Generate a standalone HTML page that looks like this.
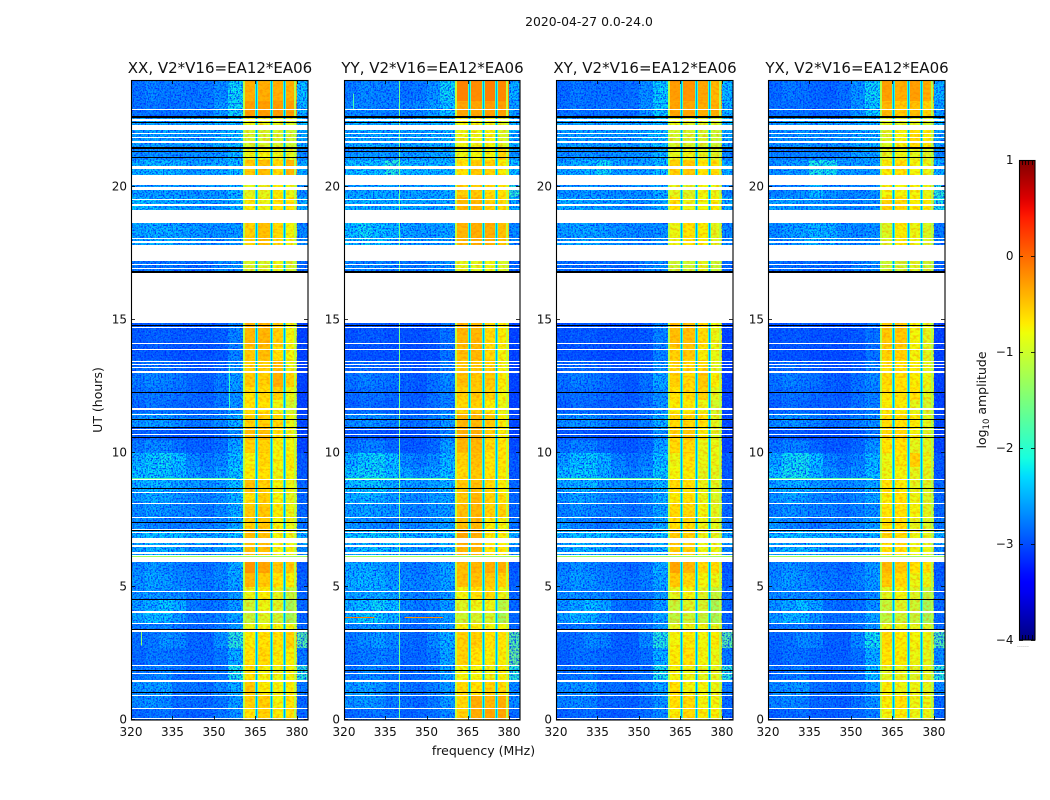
<!DOCTYPE html>
<html><head><meta charset="utf-8"><title>2020-04-27 0.0-24.0</title>
<style>
html,body{margin:0;padding:0;background:#fff}
svg{display:block}
text{font-family:"DejaVu Sans","Liberation Sans",sans-serif;fill:#111}
</style></head>
<body>
<svg id="figure" width="1050" height="800" viewBox="0 0 1050 800" xmlns="http://www.w3.org/2000/svg">
<defs>
<filter id="speckleDark" x="0" y="0" width="100%" height="100%" color-interpolation-filters="sRGB">
<feTurbulence type="fractalNoise" baseFrequency="0.6" numOctaves="2" seed="4"/>
<feColorMatrix values="0 0 0 0 0  0 0 0 0 0.14  0 0 0 0 1  4 0 0 0 -1.75"/>
</filter>
<filter id="speckleLight" x="0" y="0" width="100%" height="100%" color-interpolation-filters="sRGB">
<feTurbulence type="fractalNoise" baseFrequency="0.55" numOctaves="2" seed="11"/>
<feColorMatrix values="0 0 0 0 0.05  0 0 0 0 0.65  0 0 0 0 1  0 3.2 0 0 -1.55"/>
</filter>
<filter id="speckleBand" x="0" y="0" width="100%" height="100%" color-interpolation-filters="sRGB">
<feTurbulence type="fractalNoise" baseFrequency="0.3 0.42" numOctaves="2" seed="7"/>
<feColorMatrix values="0 0 0 0 1  0 0 0 0 0.48  0 0 0 0 0  3.4 0 0 0 -1.45"/>
</filter>
<linearGradient id="cbarGradient" x1="0" y1="1" x2="0" y2="0"></linearGradient>
</defs>
<rect x="0" y="0" width="1050" height="800" fill="#fff"/>
<text x="589" y="26" font-size="12.4" text-anchor="middle">2020-04-27 0.0-24.0</text>
<text x="0" y="0" font-size="12.5" text-anchor="middle" transform="translate(102,400) rotate(-90)">UT (hours)</text>
<text x="483.5" y="755" font-size="12.5" text-anchor="middle">frequency (MHz)</text>
<text x="0" y="0" font-size="12.5" text-anchor="middle" transform="translate(986,400) rotate(-90)">log<tspan font-size="8.5" dy="3">10</tspan><tspan dy="-3"> amplitude</tspan></text>
<text x="1017" y="647" font-size="6" letter-spacing="0.1" fill="#888" style="fill:#888">......</text>
<g id="panels"></g>
<g id="colorbar"></g>
</svg>
<script>
const panelTitles = ["XX, V2*V16=EA12*EA06","YY, V2*V16=EA12*EA06","XY, V2*V16=EA12*EA06","YX, V2*V16=EA12*EA06"];
const xTickValues = [320,335,350,365,380];
const yTickValues = [0,5,10,15,20];
const cbarTickValues = [-4,-3,-2,-1,0,1];
const cbarTickLabels = ["\u22124","\u22123","\u22122","\u22121","0","1"];

/* frequency bins of every heatmap column (MHz) */
const freqLow  = [320,325,330,335,340,345,350,355,360.5,365.7,370.8,375.6,379.9];
const freqHigh = [325,330,335,340,345,350,355,360.5,365,370.2,375,379.9,384];
/* narrow channel notches (MHz) with a shoulder, per-panel levels (log10 amplitude) */
const notchCenters = [365.35,370.5,375.3];
const notchCoreLevels = [-2.6,-2.55,-2.6,-2.6];
const notchShoulderLevels = [-1.95,-1.9,-1.95,-2];
/* rounded-off outer edges of the passband (MHz) */
const edgeCenters = [360.9,379.4];
const edgeLevels = [-1.15,-1.1,-1.15,-1.2];

/* UT row edges (hours) */
const utEdges = [0,.45,.95,1.45,2.05,2.7,3.3,3.65,4.05,4.5,5,5.5,6.1,6.6,7.1,7.6,8.1,8.5,9,9.5,10,10.5,11,11.5,12,12.5,13,13.5,14,16.75,17.8,19.14,19.6,20.07,21,21.5,22.3,22.6,23.2,24];

/* flagged (no data, white) UT ranges, hours */
const flaggedLow  = [.03,.43,.91,1.44,1.74,2.04,3.29,3.61,4.03,4.82,5.94,6.17,6.24,6.48,6.62,7.02,7.13,7.58,8.09,8.50,9.01,10.69,10.89,11.45,11.64,13.03,13.19,13.32,13.43,13.88,14.12,14.69,14.87,16.92,17.05,17.20,17.90,18.03,18.63,19.29,19.52,19.87,20.07,20.65,21.32,21.65,21.81,21.98,22.14,22.48,22.88];
const flaggedHigh = [.07,.46,.94,1.49,1.78,2.08,3.36,3.64,4.07,4.84,6.10,6.19,6.29,6.57,6.82,7.04,7.17,7.62,8.12,8.54,9.04,10.73,10.93,11.49,11.69,13.07,13.23,13.35,13.46,13.91,14.15,14.72,16.75,16.96,17.09,17.80,17.95,18.08,19.14,19.34,19.55,20.00,20.45,20.77,21.34,21.70,21.86,22.03,22.30,22.52,22.93];
/* zero-amplitude (black) UT ranges, hours */
const zeroLow  = [1.00,1.83,3.38,4.49,7.07,7.39,8.68,10.58,10.94,11.26,12.26,14.77,16.76,21.09,21.31,21.42,22.38,22.58];
const zeroHigh = [1.04,1.86,3.41,4.52,7.12,7.42,8.70,10.61,11.00,11.29,12.30,14.80,16.82,21.12,21.34,21.47,22.42,22.66];

/* short interference streaks: panel index (-1 = every panel), UT range, frequency range, level */
const streakPanel   = [-1,-1,0,1,1,1,1];
const streakUtLow   = [6.10,9.04,4.07,4.07,3.83,4.07,3.83];
const streakUtHigh  = [6.16,9.08,4.10,4.10,3.86,4.10,3.86];
const streakFreqLow = [320,320,320,320,320,342,342];
const streakFreqHigh= [384,358,356,333,331,356,356];
const streakLevel   = [-1.3,-1.7,-.2,-.1,-.1,-.4,-.2];

/* narrow always-on tones: panel index, frequency, UT range, level */
const tonePanel  = [1,1,0,0];
const toneFreq   = [340,323.2,323.6,355.4];
const toneUtLow  = [0,22.9,2.8,11.6];
const toneUtHigh = [24,23.5,3.3,13.3];
const toneLevel  = [-1.55,-1.8,-1.4,-1.9];

/* log10 amplitude: one row per UT bin, one value per frequency bin */
const xxValues = [
[-2.8,-2.75,-2.7,-2.8,-2.85,-2.8,-2.7,-2.55,-.7,-.6,-.75,-.7,-2.8],
[-2.6,-2.55,-2.6,-2.75,-2.75,-2.8,-2.7,-2.5,-.6,-.6,-.8,-.7,-2.8],
[-2.55,-2.5,-2.45,-2.7,-2.7,-2.75,-2.6,-2.4,-.55,-.75,-.8,-.75,-2.7],
[-2.7,-2.65,-2.6,-2.75,-2.8,-2.75,-2.7,-2.1,-.7,-.8,-.85,-.8,-2.0],
[-2.8,-2.7,-2.7,-2.75,-2.8,-2.8,-2.7,-2.4,-.7,-.65,-.75,-.75,-2.7],
[-2.75,-2.7,-2.55,-2.6,-2.8,-2.8,-2.55,-2.0,-.75,-.7,-.7,-.6,-1.7],
[-2.7,-2.65,-2.6,-2.7,-2.8,-2.8,-2.7,-2.5,-.85,-.8,-.8,-.8,-2.8],
[-2.45,-2.3,-2.3,-2.5,-2.7,-2.7,-2.6,-2.45,-1.1,-.95,-1.05,-1.3,-2.8],
[-2.5,-2.4,-2.25,-2.4,-2.7,-2.75,-2.7,-2.5,-1.05,-.85,-.95,-1.3,-2.8],
[-2.55,-2.5,-2.55,-2.55,-2.65,-2.7,-2.65,-2.5,-.85,-.75,-.9,-1.1,-2.8],
[-2.55,-2.45,-2.5,-2.6,-2.65,-2.7,-2.6,-2.45,-.45,-.55,-.7,-.75,-2.85],
[-2.6,-2.5,-2.55,-2.65,-2.7,-2.75,-2.65,-2.4,-.25,-.35,-.55,-.55,-2.9],
[-2.45,-2.35,-2.35,-2.4,-2.55,-2.55,-2.5,-2.35,-.5,-.5,-.8,-.8,-2.6],
[-2.35,-2.3,-2.3,-2.3,-2.4,-2.45,-2.4,-2.3,-.45,-.5,-.8,-.85,-2.4],
[-2.55,-2.6,-2.65,-2.7,-2.65,-2.65,-2.6,-2.4,-.6,-.55,-.8,-.85,-2.7],
[-2.6,-2.5,-2.55,-2.6,-2.6,-2.7,-2.6,-2.4,-.55,-.55,-.75,-.85,-2.8],
[-2.5,-2.4,-2.45,-2.55,-2.6,-2.65,-2.55,-2.35,-.7,-.6,-.8,-.9,-2.8],
[-2.4,-2.35,-2.35,-2.45,-2.5,-2.55,-2.5,-2.3,-.5,-.6,-.8,-.85,-2.8],
[-2.3,-2.25,-2.25,-2.35,-2.5,-2.6,-2.5,-2.25,-.75,-.7,-.85,-.8,-2.9],
[-2.4,-2.25,-2.2,-2.3,-2.6,-2.7,-2.6,-2.3,-.8,-.65,-.8,-.75,-2.9],
[-2.7,-2.6,-2.6,-2.75,-2.85,-2.85,-2.75,-2.45,-.6,-.6,-.8,-.8,-3.05],
[-2.85,-2.8,-2.85,-2.9,-2.9,-2.9,-2.8,-2.55,-.5,-.5,-.7,-.85,-3.05],
[-2.55,-2.5,-2.5,-2.6,-2.7,-2.7,-2.6,-2.4,-.6,-.6,-.65,-.85,-3],
[-2.8,-2.7,-2.75,-2.8,-2.8,-2.8,-2.7,-2.55,-.7,-.7,-.85,-1,-3.05],
[-2.75,-2.7,-2.7,-2.75,-2.8,-2.85,-2.7,-2.55,-.7,-.65,-.6,-.85,-3.05],
[-2.7,-2.6,-2.65,-2.7,-2.8,-2.85,-2.7,-2.5,-.55,-.6,-.4,-.6,-3.05],
[-2.75,-2.7,-2.75,-2.8,-2.9,-2.9,-2.8,-2.55,-.6,-.6,-.5,-.85,-3.05],
[-2.9,-2.9,-2.9,-2.95,-2.95,-2.95,-2.9,-2.65,-.55,-.5,-.7,-.8,-3.05],
[-2.9,-2.85,-2.85,-2.9,-2.9,-2.9,-2.85,-2.65,-.45,-.45,-.6,-.8,-3.05],
[-2.7,-2.7,-2.7,-2.7,-2.75,-2.75,-2.6,-2.55,-1,-1,-.85,-1,-2.8],
[-2.45,-2.4,-2.4,-2.45,-2.5,-2.55,-2.55,-2.5,-.6,-.5,-.65,-.8,-2.6],
[-2.3,-2.35,-2.4,-2.4,-2.45,-2.5,-2.5,-2.35,-.75,-.85,-.7,-.7,-2.4],
[-2.5,-2.5,-2.45,-2.5,-2.55,-2.5,-2.5,-2.35,-.9,-.9,-.75,-.85,-2.6],
[-2.4,-2.35,-2.35,-2.4,-2.5,-2.45,-2.4,-2.3,-.55,-.5,-.65,-.45,-2.4],
[-2.6,-2.55,-2.55,-2.6,-2.55,-2.55,-2.5,-2.35,-.85,-.8,-.85,-.9,-2.6],
[-2.5,-2.45,-2.45,-2.5,-2.5,-2.5,-2.4,-2.3,-1,-1,-1,-1.05,-2.4],
[-2.45,-2.45,-2.45,-2.45,-2.45,-2.45,-2.4,-2.3,-.85,-.9,-.9,-.95,-2.3],
[-2.75,-2.7,-2.75,-2.75,-2.7,-2.7,-2.5,-2.2,-.3,-.3,-.3,-.3,-2.4],
[-2.75,-2.65,-2.7,-2.7,-2.75,-2.7,-2.6,-2.2,-.4,-.4,-.4,-.4,-2.3]
];
const yyValues = [
[-2.8,-2.75,-2.7,-2.75,-2.85,-2.8,-2.75,-2.6,-.6,-.4,-.35,-.35,-2.8],
[-2.55,-2.5,-2.55,-2.7,-2.75,-2.8,-2.7,-2.5,-.65,-.4,-.45,-.4,-2.6],
[-2.5,-2.45,-2.5,-2.65,-2.7,-2.75,-2.65,-2.5,-.65,-.7,-.6,-.65,-2.6],
[-2.7,-2.6,-2.6,-2.7,-2.8,-2.75,-2.7,-2.45,-.8,-.8,-.85,-.75,-2.0],
[-2.75,-2.7,-2.65,-2.7,-2.8,-2.8,-2.7,-2.45,-.6,-.7,-.75,-.75,-1.6],
[-2.7,-2.6,-2.5,-2.6,-2.75,-2.8,-2.6,-2.4,-.6,-.6,-.7,-.7,-1.7],
[-2.6,-2.55,-2.55,-2.65,-2.75,-2.8,-2.7,-2.5,-.75,-.75,-.8,-.8,-2.8],
[-2.35,-2.25,-2.25,-2.4,-2.65,-2.7,-2.6,-2.5,-1.05,-1,-1,-1.3,-2.8],
[-2.4,-2.3,-2.2,-2.3,-2.6,-2.7,-2.65,-2.5,-.95,-.85,-.85,-1.2,-2.8],
[-2.45,-2.4,-2.4,-2.45,-2.6,-2.65,-2.6,-2.5,-.8,-.7,-.65,-.85,-2.8],
[-2.4,-2.35,-2.4,-2.5,-2.6,-2.65,-2.6,-2.45,-.5,-.5,-.55,-.6,-2.85],
[-2.45,-2.4,-2.45,-2.55,-2.65,-2.7,-2.6,-2.45,-.5,-.45,-.4,-.4,-2.9],
[-2.4,-2.3,-2.3,-2.35,-2.5,-2.5,-2.45,-2.35,-.45,-.45,-.7,-.7,-2.6],
[-2.3,-2.25,-2.25,-2.25,-2.35,-2.4,-2.35,-2.3,-.35,-.4,-.75,-.75,-2.4],
[-2.5,-2.55,-2.6,-2.65,-2.6,-2.6,-2.55,-2.45,-.5,-.45,-.75,-.8,-2.7],
[-2.5,-2.45,-2.5,-2.55,-2.6,-2.65,-2.55,-2.5,-.5,-.45,-.6,-.6,-2.8],
[-2.4,-2.35,-2.4,-2.5,-2.55,-2.6,-2.5,-2.45,-.55,-.45,-.6,-.7,-2.8],
[-2.3,-2.25,-2.25,-2.4,-2.45,-2.5,-2.45,-2.35,-.55,-.5,-.65,-.75,-2.8],
[-2.25,-2.2,-2.2,-2.3,-2.45,-2.55,-2.45,-2.3,-.65,-.55,-.7,-.75,-2.9],
[-2.4,-2.25,-2.2,-2.3,-2.6,-2.7,-2.6,-2.35,-.6,-.5,-.7,-.7,-2.9],
[-2.75,-2.65,-2.65,-2.8,-2.9,-2.9,-2.8,-2.5,-.45,-.45,-.65,-.7,-3],
[-2.9,-2.85,-2.9,-2.95,-2.95,-2.95,-2.85,-2.65,-.4,-.4,-.6,-.75,-3.05],
[-2.6,-2.55,-2.55,-2.65,-2.75,-2.75,-2.65,-2.5,-.45,-.45,-.55,-.75,-3],
[-2.85,-2.75,-2.8,-2.85,-2.85,-2.85,-2.75,-2.65,-.65,-.6,-.75,-.85,-3.05],
[-2.8,-2.75,-2.75,-2.8,-2.85,-2.9,-2.75,-2.65,-.6,-.55,-.6,-.8,-3.05],
[-2.75,-2.65,-2.7,-2.75,-2.85,-2.9,-2.75,-2.6,-.5,-.55,-.55,-.75,-3.05],
[-2.8,-2.75,-2.8,-2.85,-2.9,-2.95,-2.85,-2.65,-.55,-.55,-.6,-.8,-3.05],
[-2.95,-2.95,-2.95,-2.95,-3,-3,-2.95,-2.75,-.5,-.45,-.65,-.8,-3.05],
[-2.95,-2.9,-2.9,-2.95,-2.95,-2.95,-2.9,-2.75,-.45,-.45,-.65,-.75,-3.05],
[-2.6,-2.6,-2.6,-2.65,-2.7,-2.7,-2.6,-2.55,-.9,-.9,-.85,-.95,-2.8],
[-2.3,-2.2,-2.3,-2.35,-2.45,-2.5,-2.5,-2.45,-.45,-.4,-.4,-.5,-2.6],
[-2.35,-2.35,-2.4,-2.4,-2.4,-2.4,-2.45,-2.4,-.45,-.45,-.6,-.65,-2.4],
[-2.45,-2.45,-2.4,-2.45,-2.5,-2.45,-2.45,-2.4,-.6,-.55,-.65,-.7,-2.0],
[-2.3,-2.3,-2.3,-2.05,-2.3,-2.35,-2.35,-2.35,-.7,-.55,-.6,-.75,-2.3],
[-2.55,-2.5,-2.5,-2.55,-2.5,-2.5,-2.45,-2.4,-.85,-.8,-.8,-.6,-2.5],
[-2.45,-2.4,-2.4,-2.45,-2.45,-2.45,-2.4,-2.35,-.85,-.85,-.8,-.95,-2.4],
[-2.4,-2.4,-2.4,-2.4,-2.4,-2.4,-2.35,-2.3,-.8,-.85,-.85,-.95,-2.3],
[-2.6,-2.6,-2.65,-2.65,-2.65,-2.6,-2.5,-2.3,-.35,-.35,-.3,-.3,-2.5],
[-2.7,-2.6,-2.65,-2.65,-2.75,-2.7,-2.55,-2.2,-.15,-.2,-.12,-.18,-2.4]
];
const xyValues = [
[-2.85,-2.8,-2.75,-2.85,-2.9,-2.85,-2.75,-2.6,-.75,-.65,-.75,-.75,-2.8],
[-2.65,-2.6,-2.65,-2.8,-2.8,-2.85,-2.75,-2.55,-.7,-.65,-.8,-.8,-2.8],
[-2.6,-2.55,-2.5,-2.75,-2.75,-2.8,-2.65,-2.45,-.7,-.8,-.8,-.85,-2.7],
[-2.75,-2.7,-2.65,-2.8,-2.85,-2.8,-2.75,-2.1,-.8,-.85,-.9,-.9,-2.0],
[-2.85,-2.75,-2.75,-2.8,-2.85,-2.85,-2.75,-2.4,-.75,-.7,-.8,-.85,-2.7],
[-2.8,-2.75,-2.6,-2.65,-2.85,-2.85,-2.6,-2.05,-.8,-.75,-.8,-.75,-1.7],
[-2.75,-2.7,-2.65,-2.75,-2.85,-2.85,-2.75,-2.5,-.9,-.85,-.85,-.9,-2.8],
[-2.5,-2.35,-2.35,-2.55,-2.75,-2.75,-2.65,-2.45,-1.15,-1.05,-1.1,-1.3,-2.8],
[-2.55,-2.45,-2.3,-2.45,-2.75,-2.8,-2.75,-2.5,-1.1,-.95,-1,-1.3,-2.8],
[-2.6,-2.55,-2.6,-2.6,-2.7,-2.75,-2.7,-2.5,-.9,-.8,-.95,-1.1,-2.8],
[-2.6,-2.5,-2.55,-2.65,-2.7,-2.75,-2.65,-2.45,-.55,-.65,-.8,-.85,-2.85],
[-2.65,-2.55,-2.6,-2.7,-2.75,-2.8,-2.7,-2.4,-.35,-.45,-.65,-.65,-2.9],
[-2.45,-2.35,-2.35,-2.4,-2.55,-2.55,-2.5,-2.35,-.6,-.6,-.85,-.85,-2.6],
[-2.35,-2.3,-2.3,-2.3,-2.4,-2.45,-2.4,-2.3,-.55,-.6,-.85,-.9,-2.4],
[-2.5,-2.6,-2.65,-2.75,-2.65,-2.65,-2.6,-2.4,-.7,-.65,-.85,-.9,-2.7],
[-2.65,-2.55,-2.6,-2.65,-2.65,-2.75,-2.65,-2.45,-.65,-.65,-.8,-.9,-2.8],
[-2.55,-2.45,-2.5,-2.6,-2.65,-2.7,-2.6,-2.4,-.75,-.7,-.85,-.95,-2.8],
[-2.45,-2.4,-2.35,-2.5,-2.55,-2.6,-2.55,-2.35,-.65,-.7,-.85,-.9,-2.8],
[-2.35,-2.25,-2.25,-2.4,-2.55,-2.65,-2.55,-2.25,-.8,-.75,-.9,-.9,-2.9],
[-2.5,-2.3,-2.25,-2.4,-2.65,-2.75,-2.65,-2.3,-.85,-.7,-.85,-.85,-2.9],
[-2.75,-2.65,-2.65,-2.8,-2.9,-2.9,-2.8,-2.45,-.65,-.65,-.85,-.85,-3.05],
[-2.9,-2.85,-2.9,-2.95,-2.95,-2.95,-2.85,-2.55,-.6,-.55,-.75,-.9,-3.05],
[-2.6,-2.55,-2.55,-2.65,-2.75,-2.75,-2.65,-2.4,-.65,-.65,-.7,-.9,-3],
[-2.85,-2.75,-2.8,-2.85,-2.85,-2.85,-2.75,-2.55,-.75,-.75,-.85,-1,-3.05],
[-2.8,-2.75,-2.75,-2.8,-2.85,-2.9,-2.75,-2.55,-.7,-.65,-.6,-.9,-3.05],
[-2.75,-2.65,-2.7,-2.75,-2.85,-2.9,-2.75,-2.45,-.6,-.65,-.55,-.75,-3.05],
[-2.8,-2.75,-2.8,-2.85,-2.95,-2.95,-2.85,-2.55,-.65,-.65,-.65,-.9,-3.05],
[-2.95,-2.95,-2.95,-3,-3,-3,-2.95,-2.65,-.6,-.55,-.75,-.85,-3.05],
[-2.95,-2.9,-2.9,-2.95,-2.95,-2.95,-2.9,-2.65,-.5,-.5,-.65,-.85,-3.05],
[-2.75,-2.75,-2.75,-2.75,-2.8,-2.8,-2.65,-2.55,-1.05,-1.05,-.9,-1.05,-2.8],
[-2.5,-2.45,-2.45,-2.5,-2.55,-2.6,-2.6,-2.55,-.85,-.7,-.75,-.9,-2.6],
[-2.4,-2.4,-2.45,-2.45,-2.5,-2.55,-2.55,-2.4,-.7,-.85,-.8,-.75,-2.4],
[-2.55,-2.55,-2.5,-2.55,-2.6,-2.55,-2.55,-2.4,-.9,-.95,-.8,-.85,-2.6],
[-2.45,-2.4,-2.35,-2.2,-2.45,-2.5,-2.45,-2.3,-.6,-.55,-.7,-.65,-2.4],
[-2.6,-2.55,-2.55,-2.6,-2.55,-2.55,-2.5,-2.35,-.9,-.85,-.9,-.95,-2.6],
[-2.5,-2.45,-2.45,-2.5,-2.5,-2.5,-2.4,-2.3,-1,-1,-1,-1.05,-2.4],
[-2.45,-2.45,-2.45,-2.45,-2.45,-2.45,-2.4,-2.3,-.9,-.95,-.95,-1,-2.3],
[-2.75,-2.7,-2.75,-2.75,-2.75,-2.75,-2.55,-2.25,-.35,-.35,-.4,-.4,-2.4],
[-2.8,-2.7,-2.75,-2.75,-2.8,-2.75,-2.6,-2.25,-.3,-.25,-.35,-.45,-2.35]
];
const yxValues = [
[-2.85,-2.8,-2.75,-2.85,-2.9,-2.85,-2.8,-2.65,-.8,-.75,-.85,-.85,-2.8],
[-2.65,-2.6,-2.65,-2.8,-2.8,-2.85,-2.75,-2.55,-.75,-.7,-.85,-.85,-2.8],
[-2.6,-2.55,-2.5,-2.75,-2.75,-2.8,-2.7,-2.5,-.75,-.85,-.85,-.9,-2.6],
[-2.75,-2.7,-2.65,-2.8,-2.85,-2.8,-2.75,-2.3,-.9,-.9,-.95,-.9,-2.0],
[-2.85,-2.75,-2.75,-2.8,-2.85,-2.85,-2.75,-2.4,-.7,-.75,-.85,-.9,-2.6],
[-2.8,-2.75,-2.6,-2.65,-2.85,-2.85,-2.6,-2.15,-.65,-.75,-.8,-.85,-1.75],
[-2.75,-2.7,-2.65,-2.75,-2.85,-2.85,-2.75,-2.5,-.85,-.85,-.9,-.95,-2.8],
[-2.5,-2.35,-2.35,-2.55,-2.75,-2.75,-2.65,-2.45,-1.15,-1.05,-1.1,-1.3,-2.8],
[-2.55,-2.45,-2.3,-2.45,-2.75,-2.8,-2.75,-2.55,-1.1,-.95,-1.05,-1.3,-2.8],
[-2.6,-2.55,-2.6,-2.6,-2.7,-2.75,-2.7,-2.55,-.9,-.8,-.95,-1.1,-2.8],
[-2.6,-2.5,-2.55,-2.65,-2.7,-2.75,-2.65,-2.5,-.55,-.65,-.85,-.85,-2.85],
[-2.65,-2.55,-2.6,-2.7,-2.75,-2.8,-2.7,-2.5,-.45,-.55,-.7,-.7,-2.9],
[-2.45,-2.35,-2.35,-2.4,-2.55,-2.55,-2.5,-2.4,-.7,-.7,-.85,-.85,-2.6],
[-2.35,-2.3,-2.3,-2.3,-2.4,-2.45,-2.4,-2.35,-.6,-.65,-.85,-.9,-2.4],
[-2.5,-2.6,-2.65,-2.75,-2.65,-2.65,-2.6,-2.45,-.7,-.7,-.9,-.95,-2.7],
[-2.65,-2.55,-2.6,-2.65,-2.65,-2.75,-2.65,-2.55,-.7,-.7,-.8,-.9,-2.8],
[-2.55,-2.45,-2.5,-2.6,-2.65,-2.7,-2.6,-2.45,-.75,-.7,-.85,-.95,-2.8],
[-2.45,-2.4,-2.35,-2.5,-2.55,-2.6,-2.55,-2.4,-.7,-.75,-.9,-.95,-2.8],
[-2.3,-2.15,-2.15,-2.35,-2.55,-2.65,-2.55,-2.3,-.85,-.8,-.9,-.9,-2.9],
[-2.45,-2.2,-2.15,-2.3,-2.65,-2.75,-2.65,-2.35,-.85,-.75,-.6,-.85,-2.9],
[-2.75,-2.65,-2.65,-2.8,-2.9,-2.9,-2.8,-2.55,-.7,-.7,-.9,-.9,-3.05],
[-2.9,-2.85,-2.9,-2.95,-2.95,-2.95,-2.85,-2.7,-.65,-.65,-.8,-.95,-3.05],
[-2.6,-2.55,-2.55,-2.65,-2.75,-2.75,-2.65,-2.55,-.65,-.7,-.75,-.9,-3],
[-2.85,-2.75,-2.8,-2.85,-2.85,-2.85,-2.75,-2.65,-.75,-.75,-.9,-1,-3.05],
[-2.8,-2.75,-2.75,-2.8,-2.85,-2.9,-2.75,-2.65,-.7,-.7,-.7,-.9,-3.05],
[-2.75,-2.65,-2.7,-2.75,-2.85,-2.9,-2.75,-2.6,-.65,-.7,-.75,-.85,-3.05],
[-2.8,-2.75,-2.8,-2.85,-2.95,-2.95,-2.85,-2.65,-.7,-.7,-.75,-.9,-3.05],
[-2.95,-2.95,-2.95,-3,-3,-3,-2.95,-2.75,-.6,-.6,-.8,-.9,-3.05],
[-2.95,-2.9,-2.9,-2.95,-2.95,-2.95,-2.9,-2.75,-.55,-.55,-.8,-.9,-3.05],
[-2.75,-2.75,-2.75,-2.75,-2.8,-2.8,-2.65,-2.6,-1.05,-1.05,-.95,-1.05,-2.8],
[-2.6,-2.5,-2.45,-2.35,-2.4,-2.55,-2.6,-2.55,-.95,-.75,-.85,-.95,-2.7],
[-2.45,-2.45,-2.5,-2.5,-2.55,-2.6,-2.6,-2.55,-.6,-.65,-.75,-.75,-2.1],
[-2.65,-2.6,-2.55,-2.35,-2.55,-2.6,-2.6,-2.55,-.8,-.8,-.8,-.85,-2.0],
[-2.55,-2.5,-2.5,-2.1,-2.15,-2.5,-2.5,-2.5,-.75,-.7,-.8,-.85,-2.4],
[-2.65,-2.65,-2.65,-2.6,-2.65,-2.6,-2.5,-2.45,-.9,-.85,-.9,-.95,-2.6],
[-2.55,-2.55,-2.5,-2.55,-2.55,-2.55,-2.45,-2.4,-.95,-.8,-.65,-.75,-2.45],
[-2.5,-2.5,-2.45,-2.5,-2.5,-2.5,-2.45,-2.35,-.95,-.95,-.95,-1,-2.3],
[-2.75,-2.75,-2.75,-2.8,-2.8,-2.75,-2.55,-2.25,-.45,-.55,-.5,-.6,-2.5],
[-2.8,-2.7,-2.75,-2.8,-2.85,-2.75,-2.55,-2.2,-.3,-.4,-.3,-.4,-2.4]
];
const panelValues = [xxValues, yyValues, xyValues, yxValues];

/* layout */
const panelLeft  = [131,344,556,768];
const panelRight = [308,520,733,945];
const plotTop = 80, plotBottom = 720;
const FREQ_MIN = 320, FREQ_MAX = 384, UT_MIN = 0, UT_MAX = 24;
const CB_LEFT = 1019, CB_RIGHT = 1035, CB_TOP = 160, CB_BOTTOM = 640, LOG_MIN = -4, LOG_MAX = 1;

function xScale(p, f){ return panelLeft[p] + (f - FREQ_MIN) / (FREQ_MAX - FREQ_MIN) * (panelRight[p] - panelLeft[p]); }
function yScale(ut){ return plotBottom - (ut - UT_MIN) / (UT_MAX - UT_MIN) * (plotBottom - plotTop); }
function cbarY(v){ return CB_BOTTOM - (v - LOG_MIN) / (LOG_MAX - LOG_MIN) * (CB_BOTTOM - CB_TOP); }
function clamp01(t){ return Math.max(0, Math.min(1, t)); }
function jet(v){
  const t = clamp01((v - LOG_MIN) / (LOG_MAX - LOG_MIN));
  let r, g, b;
  if (t < .35) r = 0; else if (t < .66) r = (t - .35) / .31; else if (t < .89) r = 1; else r = 1 - (t - .89) / .11 * .5;
  if (t < .125) g = 0; else if (t < .375) g = (t - .125) / .25; else if (t < .64) g = 1; else if (t < .91) g = 1 - (t - .64) / .27; else g = 0;
  if (t < .11) b = .5 + t / .11 * .5; else if (t < .34) b = 1; else if (t < .65) b = 1 - (t - .34) / .31; else b = 0;
  return 'rgb(' + Math.round(r * 255) + ',' + Math.round(g * 255) + ',' + Math.round(b * 255) + ')';
}
const NS = 'http://www.w3.org/2000/svg';
function make(tag, attrs, parent){
  const el = document.createElementNS(NS, tag);
  for (const k in attrs) el.setAttribute(k, attrs[k]);
  parent.appendChild(el);
  return el;
}

const panelsRoot = document.getElementById('panels');
panelTitles.forEach(function(title, p){
  const g = make('g', {}, panelsRoot);
  
  
  const L = panelLeft[p], R = panelRight[p];
  const H = plotBottom - plotTop;

  const heat = make('g', {'shape-rendering': 'crispEdges'}, g);
  
  
  panelValues[p].forEach(function(row, r){
    const y0 = Math.round(yScale(utEdges[r + 1])), y1 = Math.round(yScale(utEdges[r]));
    row.forEach(function(v, c){
      const x0 = Math.round(xScale(p, freqLow[c])), x1 = Math.round(xScale(p, freqHigh[c]));
      const cell = make('rect', {x: x0, y: y0, width: x1 - x0, height: y1 - y0, fill: jet(v)}, heat);
      
      
    });
  });

  /* noise texture over the out-of-band regions and fringes over the passband */
  const lowW = xScale(p, 360.5) - L, highX = xScale(p, 380);
  [['speckleDark', .9], ['speckleLight', .5]].forEach(function(s){
    const a = make('rect', {x: L, y: plotTop, width: lowW, height: H, filter: 'url(#' + s[0] + ')', opacity: s[1]}, g);
    
    
    const b = make('rect', {x: highX, y: plotTop, width: R - highX, height: H, filter: 'url(#' + s[0] + ')', opacity: s[1]}, g);
    
    
  });
  const fringes = make('rect', {x: L + lowW, y: plotTop, width: highX - L - lowW, height: H, filter: 'url(#speckleBand)', opacity: .42}, g);
  
  

  edgeCenters.forEach(function(f){
    const x0 = Math.round(xScale(p, f) - 1);
    const edge = make('rect', {x: x0, y: plotTop, width: 2, height: H, fill: jet(edgeLevels[p]), 'shape-rendering': 'crispEdges'}, g);
    
    
  });
  notchCenters.forEach(function(f){
    const xc = Math.round(xScale(p, f));
    const shoulder = make('rect', {x: xc - 1, y: plotTop, width: 3, height: H, fill: jet(notchShoulderLevels[p]), 'shape-rendering': 'crispEdges'}, g);
    
    
    const core = make('rect', {x: xc, y: plotTop, width: 1, height: H, fill: jet(notchCoreLevels[p]), 'shape-rendering': 'crispEdges'}, g);
    
    
  });

  toneFreq.forEach(function(f, i){
    if (tonePanel[i] !== p) return;
    const y0 = yScale(toneUtHigh[i]), y1 = yScale(toneUtLow[i]);
    const tone = make('rect', {x: Math.round(xScale(p, f)), y: y0, width: 1, height: y1 - y0, fill: jet(toneLevel[i]), 'shape-rendering': 'crispEdges'}, g);
    
    
  });
  streakLevel.forEach(function(v, i){
    if (streakPanel[i] !== -1 && streakPanel[i] !== p) return;
    const y0 = Math.round(yScale(streakUtHigh[i])), x0 = xScale(p, streakFreqLow[i]);
    const streak = make('rect', {x: x0, y: y0, width: xScale(p, streakFreqHigh[i]) - x0, height: 1, fill: jet(v), 'shape-rendering': 'crispEdges'}, g);
    
    
  });

  flaggedLow.forEach(function(lo, i){
    const y0 = Math.round(yScale(flaggedHigh[i])), y1 = Math.round(yScale(lo));
    const gap = make('rect', {x: L, y: y0, width: R - L, height: Math.max(1, y1 - y0), fill: '#fff', 'shape-rendering': 'crispEdges'}, g);
    
    
  });
  zeroLow.forEach(function(lo, i){
    const y0 = Math.round(yScale(zeroHigh[i])), y1 = Math.round(yScale(lo));
    const line = make('rect', {x: L, y: y0, width: R - L, height: Math.max(1, y1 - y0), fill: '#000', 'shape-rendering': 'crispEdges'}, g);
    
    
  });

  const frame = make('rect', {x: L + .5, y: plotTop + .5, width: R - L - .5, height: H - .5, fill: 'none', stroke: '#000', 'stroke-width': 1.1}, g);
  
  

  const titleEl = make('text', {x: (L + R) / 2 + .5, y: 73, 'font-size': 15, 'text-anchor': 'middle'}, g);
  titleEl.textContent = title;
  
  

  xTickValues.forEach(function(f){
    const x = Math.round(xScale(p, f)) + .5;
    const t1 = make('line', {x1: x, x2: x, y1: plotBottom, y2: plotBottom - 4, stroke: '#000', 'stroke-width': .8}, g);
    
    
    const t2 = make('line', {x1: x, x2: x, y1: plotTop, y2: plotTop + 4, stroke: '#000', 'stroke-width': .8}, g);
    
    
    const lab = make('text', {x: xScale(p, f), y: 736, 'font-size': 12, 'text-anchor': 'middle'}, g);
    lab.textContent = f;
    
    
  });
  yTickValues.forEach(function(ut){
    const y = Math.round(yScale(ut)) - .5;
    const t1 = make('line', {x1: L, x2: L + 4, y1: y, y2: y, stroke: '#000', 'stroke-width': .8}, g);
    
    
    const t2 = make('line', {x1: R, x2: R - 4, y1: y, y2: y, stroke: '#000', 'stroke-width': .8}, g);
    
    
    const lab = make('text', {x: L - 4, y: y + 4, 'font-size': 12, 'text-anchor': 'end'}, g);
    lab.textContent = ut;
    
    
  });
});

/* colorbar */
const grad = document.getElementById('cbarGradient');
for (let i = 0; i <= 50; i++) {
  make('stop', {offset: i / 50, 'stop-color': jet(LOG_MIN + (LOG_MAX - LOG_MIN) * i / 50)}, grad);
}
const cb = document.getElementById('colorbar');
const ramp = make('rect', {x: CB_LEFT, y: CB_TOP, width: CB_RIGHT - CB_LEFT, height: CB_BOTTOM - CB_TOP, fill: 'url(#cbarGradient)'}, cb);


const cbFrame = make('rect', {x: CB_LEFT + .5, y: CB_TOP + .5, width: CB_RIGHT - CB_LEFT - .5, height: CB_BOTTOM - CB_TOP - .5, fill: 'none', stroke: '#000', 'stroke-width': 1.1}, cb);


cbarTickValues.forEach(function(v, i){
  const y = Math.round(cbarY(v)) + .5;
  const a = make('line', {x1: CB_LEFT, x2: CB_LEFT + 4, y1: y, y2: y, stroke: '#000', 'stroke-width': .8}, cb);
  
  
  const b = make('line', {x1: CB_RIGHT, x2: CB_RIGHT - 4, y1: y, y2: y, stroke: '#000', 'stroke-width': .8}, cb);
  
  
  const lab = make('text', {x: 1013.5, y: y + 3.5, 'font-size': 12, 'text-anchor': 'end'}, cb);
  lab.textContent = cbarTickLabels[i];
  
  
});
[1022, 1025, 1028, 1032].forEach(function(x){
  const top = make('line', {x1: x + .5, x2: x + .5, y1: CB_TOP, y2: CB_TOP + 5, stroke: '#000', 'stroke-width': .8}, cb);
  
  
  const bot = make('line', {x1: x + .5, x2: x + .5, y1: CB_BOTTOM, y2: CB_BOTTOM - 5, stroke: '#000', 'stroke-width': .8}, cb);
  
  
});
</script>
</body></html>
